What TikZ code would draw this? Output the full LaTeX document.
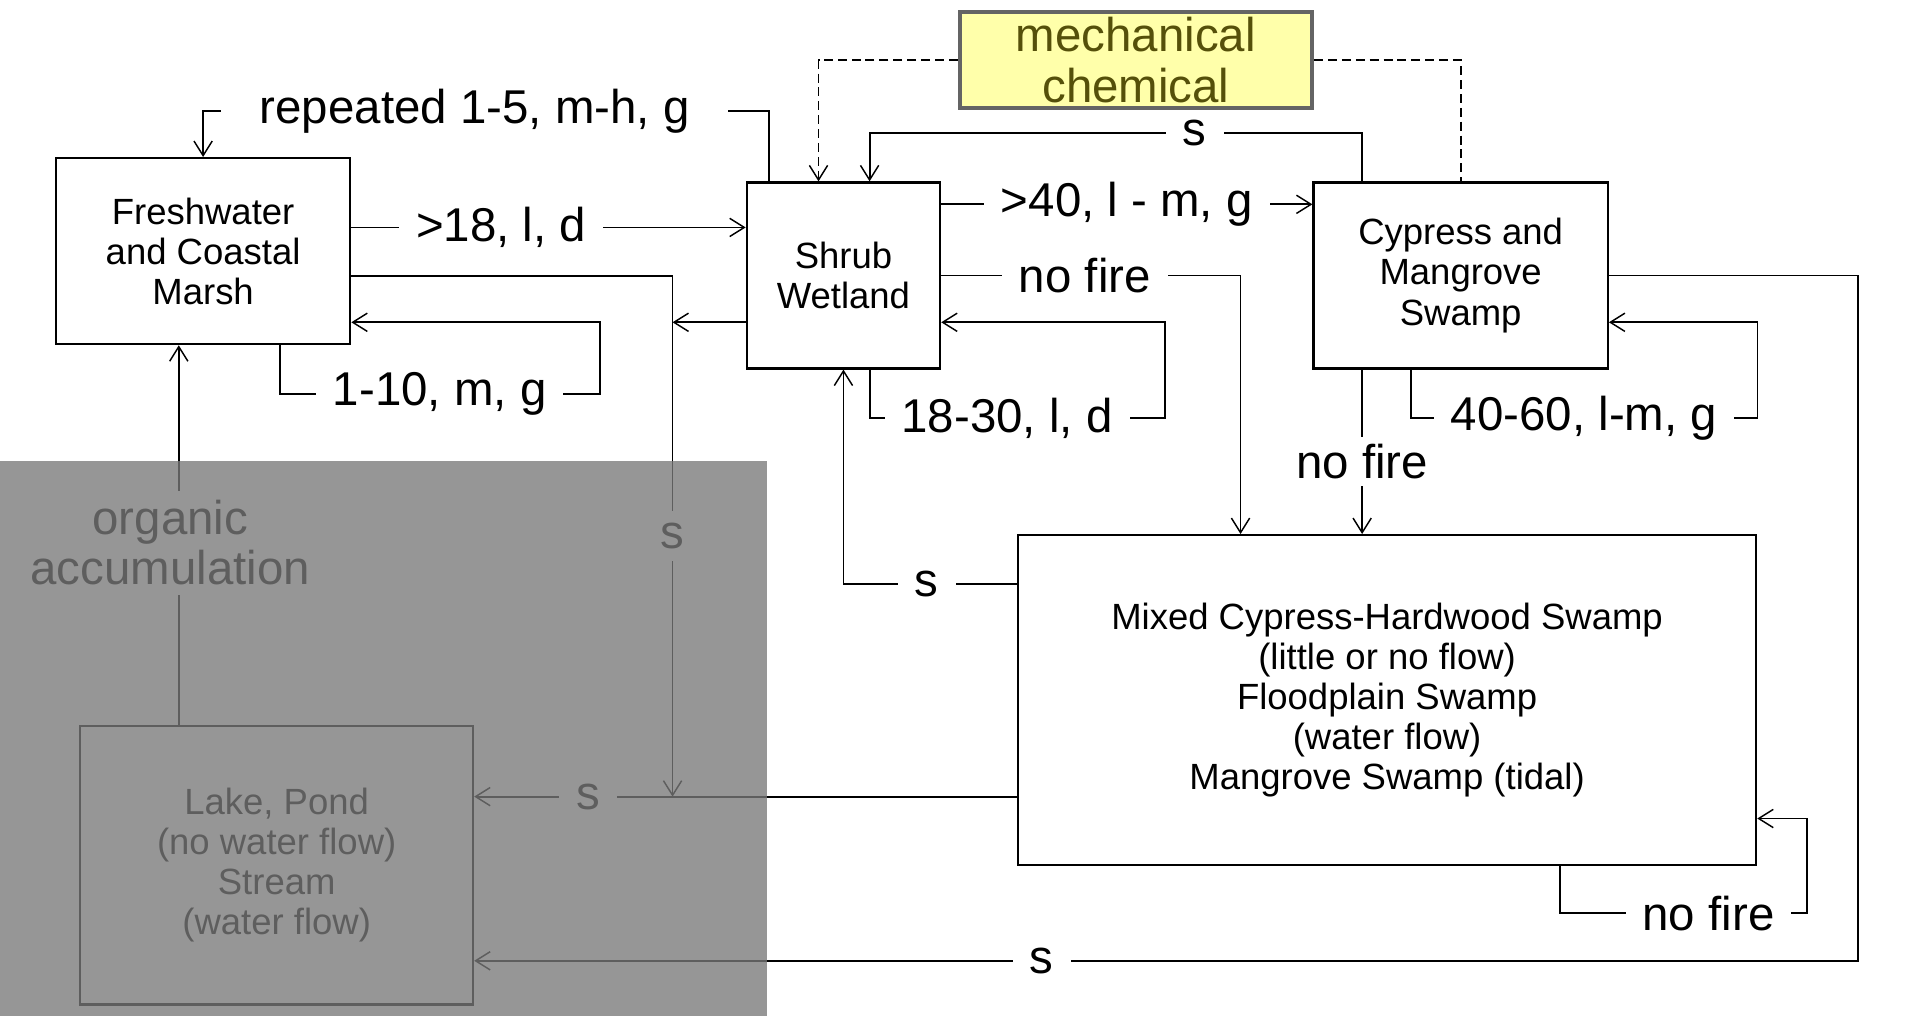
\documentclass[tikz,border=0pt]{standalone}
\usepackage{fontspec}
\setmainfont{Liberation Sans}
\usetikzlibrary{arrows.meta}
\definecolor{MechYellow}{RGB}{255,255,170}
\definecolor{MechText}{RGB}{85,80,10}
\definecolor{MechBorder}{RGB}{100,100,100}
\definecolor{ShadeGray}{RGB}{121,121,121}

\begin{document}
\begin{tikzpicture}[
  x=0.5pt, y=-0.5pt,
  every node/.style={font=\fontsize{15}{16.5}\selectfont},
  habitat/.style={draw, line width=0.9pt, align=center, inner sep=0pt, minimum height=76.5pt},
  control/.style={draw=MechBorder, fill=MechYellow, line width=1.6pt, align=center, inner sep=0pt, text=MechText, font=\fontsize{19.5}{21}\selectfont},
  lbl/.style={fill=white, inner xsep=7pt, inner ysep=3pt, align=center, font=\fontsize{19.5}{20.5}\selectfont},
  conn/.style={-{Straight Barb[length=6pt, width=7.5pt, line width=0.6pt]}, line width=0.75pt},
  treat/.style={line width=0.75pt, dash pattern=on 3.7pt off 2pt}
]
\path[use as bounding box, fill=white] (0,0) rectangle (1568,835);

% habitats
\node[habitat, minimum width=121pt] (fresh) at (167,206.5) {Freshwater\\and Coastal\\Marsh};
\node[habitat, minimum width=79.5pt] (shrub) at (693.5,226.5) {Shrub\\Wetland};
\node[habitat, minimum width=121pt] (cypress) at (1201,226.5) {Cypress and\\Mangrove\\Swamp};
\node[habitat, minimum width=303.5pt, minimum height=135.5pt] (mixed) at (1140.5,575.5) {Mixed Cypress-Hardwood Swamp\\(little or no flow)\\Floodplain Swamp\\(water flow)\\Mangrove Swamp (tidal)};
\node[habitat, minimum width=161.5pt, minimum height=114.5pt] (lake) at (227.5,711.5) {Lake, Pond\\(no water flow)\\Stream\\(water flow)};

% treatments
\node[control, minimum width=145pt, minimum height=39.5pt] (chem) at (934,49.5) {mechanical\\chemical};

\coordinate (join) at (553,655);

% marsh
\draw[conn] ([xshift=9.5pt]shrub.north west) |- ([yshift=19pt]fresh.north) node[lbl, inner xsep=16pt, pos=0.76] {repeated 1-5, m-h, g} -- (fresh.north);
\draw[conn] ([yshift=9.75pt]fresh.east) -- ([yshift=9.75pt]fresh.east -| shrub.west) node[lbl, pos=0.38] {>18, l, d};
\draw[conn] ([yshift=-10.25pt]fresh.east) -| node[lbl, inner ysep=5pt, pos=0.75] {s} (join);
\draw[conn] ([xshift=31.5pt]fresh.south) -- ++(0,40) -- ++(263,0) node[lbl, midway] {1-10, m, g} |- ([yshift=-29.25pt]fresh.east);

% shrub wetland
\draw[conn] ([yshift=-19.25pt]shrub.west) -- ([yshift=-19.25pt]shrub.west -| join);
\draw[conn] ([xshift=10.75pt]shrub.south) -- ++(0,40) -- ++(243,0) node[lbl, pos=0.465] {18-30, l, d} |- ([yshift=-19.25pt]shrub.east);
\draw[conn] ([yshift=29.25pt]shrub.east) -- ([yshift=29.25pt]shrub.east -| cypress.west) node[lbl, midway] {>40, l - m, g};
\draw[conn] (shrub.east) -| node[lbl, pos=0.24] {no fire} ([xshift=-60.25pt]mixed.north);

% dashed treatment lines
\draw[conn, treat] (chem.west) -| ([xshift=-10.25pt]shrub.north);
\draw[treat] (chem.east) -| (cypress.north);

% cypress and mangrove
\draw[conn] ([xshift=-40.5pt]cypress.north) -- ++(0,-40) -| node[lbl, inner ysep=0pt, pos=0.17] {s} ([xshift=10.75pt]shrub.north);
\draw[conn] ([xshift=-40.5pt]cypress.south) -- ([xshift=-40.5pt]cypress.south |- mixed.north) node[lbl, pos=0.56] {no fire};
\draw[conn] ([xshift=-20.5pt]cypress.south) -- ++(0,40) -- ++(285,0) node[lbl, midway] {40-60, l-m, g} |- ([yshift=-19.25pt]cypress.east);
\draw[conn] (cypress.east) -- ++(205,0) |- node[lbl, pos=0.795] {s} ([yshift=-39.25pt]lake.east);

% mixed swamps
\draw[conn] ([yshift=47.75pt]mixed.west) -| node[lbl, pos=0.26] {s} (shrub.south);
\draw[conn] ([yshift=-39.75pt]mixed.west) -- ([yshift=-39.75pt]mixed.west -| lake.east) node[lbl, pos=0.79] {s};
\draw[conn] ([xshift=71.25pt]mixed.south) -- ++(0,39) -- ++(203,0) node[lbl, pos=0.6] {no fire} |- ([yshift=-48.75pt]mixed.east);

% open water
\draw[conn] ([xshift=-40.25pt]lake.north) -- ([xshift=-40.25pt]lake.north |- fresh.south) node[lbl, inner ysep=4pt, xshift=-3.5pt, pos=0.48] {organic\\accumulation};

% grey shading over the lower left
\fill[ShadeGray, fill opacity=0.78] (0,379) rectangle (631,835);
\end{tikzpicture}
\end{document}
